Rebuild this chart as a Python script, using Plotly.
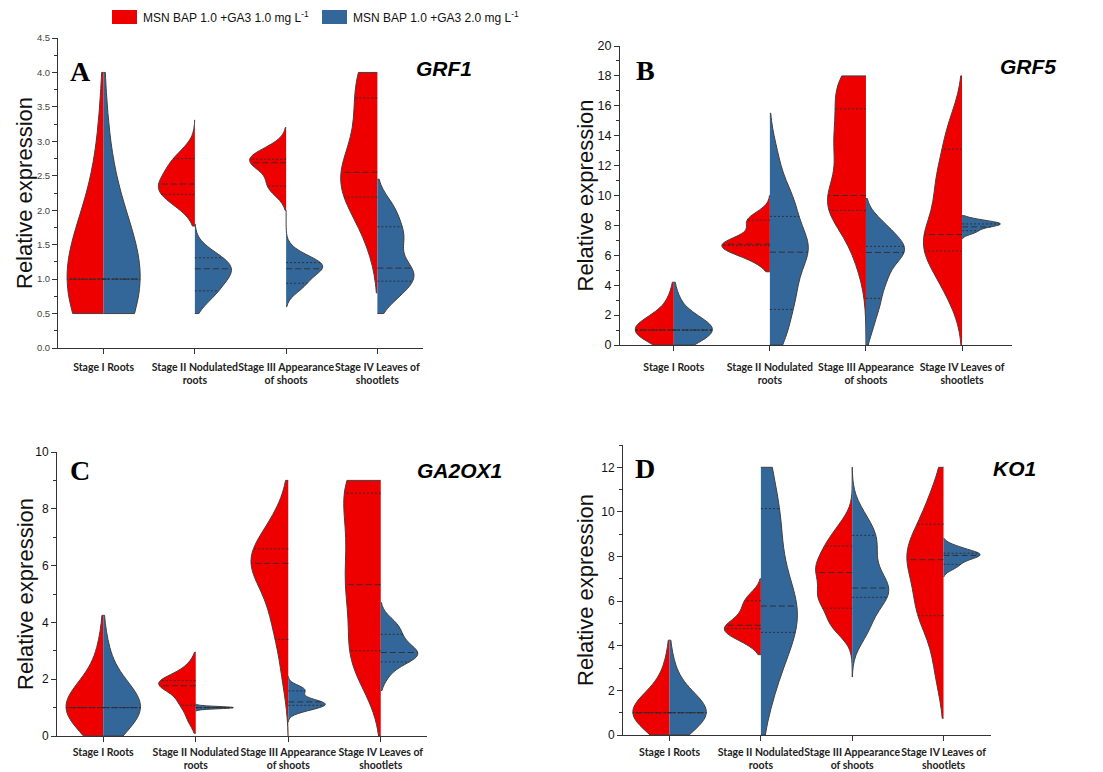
import numpy as np
import plotly.graph_objects as go

# ---------------- data ----------------
stage_labels = ["Stage I Roots", "Stage II Nodulated<br>roots",
                "Stage III Appearance<br>of shoots", "Stage IV Leaves of<br>shootlets"]
stage_pos = [0, 1, 2, 3]
treatments = ["MSN BAP 1.0 +GA3 1.0 mg L<sup>-1</sup>",
              "MSN BAP 1.0 +GA3 2.0 mg L<sup>-1</sup>"]
genes = ["GRF1", "GRF5", "GA2OX1", "KO1"]
letters = ["A", "B", "C", "D"]

# ---- GRF1 (panel A) ----
grf1_low = [
    [1.0, 1.0, 1.0, 1.0, 1.0, 1.0, 1.0, 1.0, 2.8],
    [2.15, 2.15, 2.35, 2.35, 2.35, 2.35, 2.7, 2.7, 2.7],
    [2.35, 2.35, 2.35, 2.7, 2.7, 2.7, 2.7, 2.7, 2.85, 2.85],
    [1.6, 2.2, 2.2, 2.2, 2.7, 2.7, 2.7, 3.4, 3.4, 4.0, 4.0],
]
grf1_high = [
    [1.0, 1.0, 1.0, 1.0, 1.0, 1.0, 1.0, 1.0, 2.7],
    [0.8, 0.8, 1.1, 1.1, 1.1, 1.3, 1.3],
    [0.92, 0.92, 1.18, 1.18, 1.18, 1.18, 1.35],
    [0.8, 0.8, 1.1, 1.1, 1.1, 1.1, 1.6, 1.6, 1.6, 2.0, 2.0],
]
grf1_low_bw = [0.9, 0.2, 0.15, 0.4]
grf1_high_bw = [0.9, 0.18, 0.13, 0.22]
grf1_low_span = [[0.5, 4.0], [1.77, 3.31], [2.0, 3.2], [0.8, 4.0]]
grf1_high_span = [[0.5, 4.0], [0.5, 1.8], [0.6, 2.0], [0.5, 2.45]]
grf1_low_quart = [[1.0, 1.0, 1.0], [2.23, 2.38, 2.75], [2.35, 2.69, 2.74], [2.19, 2.55, 3.63]]
grf1_high_quart = [[1.0, 1.0, 1.0], [0.83, 1.15, 1.31], [0.94, 1.15, 1.24], [0.97, 1.16, 1.76]]

# ---- GRF5 (panel B) ----
grf5_low = [
    [1.0, 1.0, 1.0, 1.0, 1.0, 1.0, 1.0, 1.0, 2.8],
    [5.8, 6.7, 6.7, 6.7, 6.7, 8.3, 8.3],
    [6.2, 9.5, 9.5, 9.5, 9.5, 13.5, 13.5, 13.5, 17.0, 17.0, 17.5],
    [4.0, 4.0, 6.8, 6.8, 6.8, 6.8, 6.8, 9.0, 11.0, 11.0, 11.0, 14.2, 14.2],
]
grf5_high = [
    [1.0, 1.0, 1.0, 1.0, 1.0, 1.0, 1.0, 1.0, 2.8],
    [0.8, 0.8, 3.5, 3.5, 3.5, 6.5, 6.5, 6.5, 6.5, 6.5, 9.5, 9.5, 9.5, 12.5],
    [1.2, 2.8, 2.8, 4.5, 4.5, 4.5, 6.3, 6.3, 6.3, 6.3, 6.3, 6.3, 7.8, 7.8, 7.8],
    [7.5, 7.6, 7.85, 7.85, 8.1, 8.1, 8.1, 8.1, 8.1, 8.35, 8.35],
]
grf5_low_bw = [0.9, 0.6, 1.8, 1.8]
grf5_high_bw = [0.9, 1.5, 0.9, 0.17]
grf5_low_span = [[0.0, 4.2], [4.9, 10.0], [0.0, 18.0], [0.0, 18.0]]
grf5_high_span = [[0.0, 4.2], [0.0, 15.5], [0.0, 9.8], [7.1, 8.65]]
grf5_low_quart = [[1.0, 1.0, 1.0], [6.65, 6.75, 8.35], [9.0, 10.0, 15.8], [6.28, 7.39, 13.1]]
grf5_high_quart = [[1.0, 1.0, 1.0], [2.38, 6.21, 8.6], [3.12, 6.19, 6.6], [7.65, 7.9, 8.1]]

# ---- GA2OX1 (panel C) ----
ga2ox1_low = [
    [1.0, 1.0, 1.0, 1.0, 1.0, 1.0, 1.0, 1.0, 2.8],
    [0.6, 1.2, 1.2, 1.85, 1.85, 1.85, 1.85, 1.85, 2.4],
    [2.2, 3.8, 3.8, 5.0, 5.0, 6.2, 6.2, 6.2, 6.2, 6.2, 6.2, 7.5, 7.5],
    [2.8, 2.8, 2.8, 5.3, 5.3, 5.3, 7.3, 7.3, 9.0, 9.0, 9.0],
]
ga2ox1_high = [
    [1.0, 1.0, 1.0, 1.0, 1.0, 1.0, 1.0, 1.0, 2.8],
    [1.0, 1.0, 1.0],
    [0.95, 0.95, 1.15, 1.15, 1.15, 1.15, 1.4, 1.65, 1.65],
    [2.2, 2.85, 2.85, 2.85, 2.85, 2.85, 3.4, 3.4, 3.9, 3.9],
]
ga2ox1_low_bw = [0.9, 0.3, 0.9, 1.25]
ga2ox1_high_bw = [0.9, 0.04, 0.15, 0.33]
ga2ox1_low_span = [[0.0, 4.25], [0.1, 2.95], [0.0, 9.0], [0.0, 9.0]]
ga2ox1_high_span = [[0.0, 4.25], [0.88, 1.12], [0.5, 2.1], [1.6, 4.7]]
ga2ox1_low_quart = [[1.0, 1.0, 1.0], [1.08, 1.77, 1.95], [3.4, 6.08, 6.59], [3.0, 5.33, 8.55]]
ga2ox1_high_quart = [[1.0, 1.0, 1.0], [1.0, 1.0, 1.0], [1.08, 1.2, 1.59], [2.61, 2.94, 3.58]]

# ---- KO1 (panel D) ----
ko1_low = [
    [1.0, 1.0, 1.0, 1.0, 1.0, 1.0, 1.0, 1.0, 2.8],
    [4.3, 4.3, 4.8, 4.8, 4.8, 4.8, 4.8, 5.5, 5.5, 6.1, 6.1],
    [5.0, 5.0, 6.2, 6.2, 6.2, 7.4, 7.4, 7.4, 8.4, 8.4, 9.3],
    [3.0, 5.6, 5.6, 5.6, 8.0, 8.0, 8.0, 8.0, 9.6, 10.6],
]
ko1_high = [
    [1.0, 1.0, 1.0, 1.0, 1.0, 1.0, 1.0, 1.0, 2.8],
    [2.5, 2.5, 5.5, 5.5, 5.5, 5.5, 5.5, 5.5, 9.5, 9.5, 9.5, 12.5],
    [4.8, 4.8, 6.3, 6.3, 6.3, 6.3, 7.3, 7.3, 8.5, 8.5, 9.1, 9.8],
    [7.5, 7.6, 7.85, 7.85, 8.1, 8.1, 8.1, 8.1, 8.1, 8.4, 8.4],
]
ko1_low_bw = [0.9, 0.4, 0.6, 1.2]
ko1_high_bw = [0.9, 1.8, 0.75, 0.18]
ko1_low_span = [[0.0, 4.25], [3.6, 7.0], [2.6, 12.0], [0.75, 12.0]]
ko1_high_span = [[0.0, 4.25], [0.0, 12.0], [2.6, 12.0], [7.1, 8.8]]
ko1_low_quart = [[1.0, 1.0, 1.0], [4.77, 4.92, 6.02], [5.68, 7.28, 8.47], [5.35, 7.86, 9.45]]
ko1_high_quart = [[1.0, 1.0, 1.0], [4.6, 5.78, 10.15], [6.17, 6.59, 8.95], [7.65, 8.05, 8.15]]

# ---------------- styling ----------------
RED = "#EE0000"
BLUE = "#336699"
OUTLINE = "#404040"
QLINE = "rgba(45,45,45,0.9)"
VWIDTH = 0.8

# page offset (browser body margin) and figure size
OFF = 8
W, H = 1103 - OFF, 772 - OFF


def px_x(px):
    return (px - OFF) / W


def px_y(py):
    return 1 - (py - OFF) / H


panels = [
    dict(gene=genes[0], letter=letters[0], low=grf1_low, high=grf1_high,
         low_bw=grf1_low_bw, high_bw=grf1_high_bw, low_span=grf1_low_span, high_span=grf1_high_span,
         low_q=grf1_low_quart, high_q=grf1_high_quart,
         xpx=[58, 423], ypx=[348, 38], standoff=4, wide={},
         xr=[-0.5, 3.5], yr=[0, 4.5], dtick=0.5, minor=0.25, tfmt=".1f", tsize=9.5,
         tcolor="#444", lx=80, ly=71, gx=444, gy=68, tx=25),
    dict(gene=genes[1], letter=letters[1], low=grf5_low, high=grf5_high,
         low_bw=grf5_low_bw, high_bw=grf5_high_bw, low_span=grf5_low_span, high_span=grf5_high_span,
         low_q=grf5_low_quart, high_q=grf5_high_quart,
         xpx=[620, 1012], ypx=[345, 46], standoff=7, wide={("low", 1): 1.25},
         xr=[-0.56, 3.52], yr=[0, 20], dtick=2, minor=1, tfmt="d", tsize=12.5,
         tcolor="#111", lx=645, ly=70, gx=1028, gy=67, tx=585),
    dict(gene=genes[2], letter=letters[2], low=ga2ox1_low, high=ga2ox1_high,
         low_bw=ga2ox1_low_bw, high_bw=ga2ox1_high_bw, low_span=ga2ox1_low_span, high_span=ga2ox1_high_span,
         low_q=ga2ox1_low_quart, high_q=ga2ox1_high_quart,
         xpx=[57, 427], ypx=[736, 452], standoff=1, wide={},
         xr=[-0.5, 3.5], yr=[0, 10], dtick=2, minor=1, tfmt="d", tsize=12,
         tcolor="#111", lx=80, ly=470, gx=459, gy=470, tx=25),
    dict(gene=genes[3], letter=letters[3], low=ko1_low, high=ko1_high,
         low_bw=ko1_low_bw, high_bw=ko1_high_bw, low_span=ko1_low_span, high_span=ko1_high_span,
         low_q=ko1_low_quart, high_q=ko1_high_quart,
         xpx=[623, 991], ypx=[735, 445], standoff=2, wide={},
         xr=[-0.51, 3.52], yr=[0, 13], dtick=2, minor=1, tfmt="d", tsize=12,
         tcolor="#111", lx=645, ly=469, gx=1014, gy=469, tx=585),
]


def kde_profile(samples, bw, span):
    s = np.asarray(samples, dtype=float)
    dist = span[1] - span[0]
    n = int(np.ceil(dist / (bw / 3.0)))
    grid = span[0] + (dist / n) * np.arange(n + 1)
    dens = lambda t: np.exp(-0.5 * ((np.atleast_1d(t)[None, :] - s[:, None]) / bw) ** 2).sum(0)
    dmax = dens(grid).max()
    return lambda y: float(dens(y)[0] / dmax)


fig = go.Figure()
layout_axes = {}
annotations = []

for pi, p in enumerate(panels):
    sfx = "" if pi == 0 else str(pi + 1)
    xa, ya = "x" + sfx, "y" + sfx
    med_x, med_y, q_x, q_y = [], [], [], []
    for side, key, color in (("negative", "low", RED), ("positive", "high", BLUE)):
        sign = -1 if side == "negative" else 1
        for si, pos in enumerate(stage_pos):
            samples = p[key][si]
            bw = p[key + "_bw"][si]
            span = p[key + "_span"][si]
            vw = VWIDTH * p["wide"].get((key, si), 1.0)
            fig.add_trace(go.Violin(
                x=[pos] * len(samples), y=samples, side=side, width=vw,
                bandwidth=bw, spanmode="manual", span=span, points=False,
                fillcolor=color, line=dict(color=OUTLINE, width=1),
                box_visible=False, meanline_visible=False,
                scalegroup=f"{p['gene']}-{key}-{si}", showlegend=False,
                hoverinfo="skip", xaxis=xa, yaxis=ya,
            ))
            prof = kde_profile(samples, bw, span)
            q1, med, q3 = p[key + "_q"][si]
            for qv, lx, ly in ((q1, q_x, q_y), (q3, q_x, q_y), (med, med_x, med_y)):
                rel = prof(qv)
                lx += [pos, pos + sign * (vw / 2) * rel, None]
                ly += [qv, qv, None]
    fig.add_trace(go.Scatter(x=q_x, y=q_y, mode="lines", xaxis=xa, yaxis=ya,
                             line=dict(color=QLINE, width=1, dash="2px,2px"),
                             showlegend=False, hoverinfo="skip"))
    fig.add_trace(go.Scatter(x=med_x, y=med_y, mode="lines", xaxis=xa, yaxis=ya,
                             line=dict(color=QLINE, width=1, dash="6px,3px"),
                             showlegend=False, hoverinfo="skip"))

    xdom = [px_x(p["xpx"][0]), px_x(p["xpx"][1])]
    ydom = [px_y(p["ypx"][0]), px_y(p["ypx"][1])]
    xname = "xaxis" + sfx
    yname = "yaxis" + sfx
    layout_axes[xname] = dict(
        domain=xdom, anchor=ya, range=p["xr"], tickmode="array",
        tickvals=stage_pos, ticktext=stage_labels, showgrid=False, zeroline=False,
        showline=True, linecolor="#333", linewidth=1, ticks="outside", ticklen=5,
        tickcolor="#333", tickangle=0, automargin=False,
        ticklabelstandoff=p["standoff"],
        tickfont=dict(family="Lato, Open Sans, sans-serif", size=10.5, color="#222",
                      weight="bold"),
    )
    layout_axes[yname] = dict(
        domain=ydom, anchor=xa, range=p["yr"], dtick=p["dtick"], tick0=0,
        tickformat=p["tfmt"],
        showgrid=False, zeroline=False, showline=True, linecolor="#333", linewidth=1,
        ticks="outside", ticklen=5, tickcolor="#333", automargin=False,
        tickfont=dict(family="Liberation Sans, Arial, sans-serif", size=p["tsize"],
                      color=p["tcolor"]),
        minor=dict(dtick=p["minor"], tick0=0, ticks="outside", ticklen=3,
                   tickcolor="#333", showgrid=False),
    )
    annotations.append(dict(
        text="Relative expression", x=px_x(p["tx"]),
        y=(ydom[0] + ydom[1]) / 2, xref="paper", yref="paper",
        textangle=-90, showarrow=False, xanchor="center", yanchor="middle",
        font=dict(family="Liberation Sans, Arial, sans-serif", size=22, color="#111")))
    annotations.append(dict(
        text=p["letter"], x=px_x(p["lx"]), y=px_y(p["ly"]), xref="paper",
        yref="paper", showarrow=False, xanchor="center", yanchor="middle",
        font=dict(family="Liberation Serif, Times New Roman, serif", size=28,
                  color="#000", weight="bold")))
    annotations.append(dict(
        text=f"<b><i>{p['gene']}</i></b>", x=px_x(p["gx"]), y=px_y(p["gy"]),
        xref="paper", yref="paper", showarrow=False, xanchor="center",
        yanchor="middle",
        font=dict(family="Liberation Sans, Arial, sans-serif", size=21, color="#000")))

# manual legend
legend_items = [(treatments[0], RED, 112), (treatments[1], BLUE, 322)]
shapes = []
for text, color, x0 in legend_items:
    shapes.append(dict(type="rect", xref="paper", yref="paper",
                       x0=px_x(x0), x1=px_x(x0 + 25),
                       y0=px_y(24), y1=px_y(10),
                       fillcolor=color, line=dict(width=0)))
    annotations.append(dict(text=text, x=px_x(x0 + 29), y=px_y(17),
                            xref="paper", yref="paper", showarrow=False,
                            xanchor="left", yanchor="middle",
                            font=dict(family="Liberation Sans, Arial, sans-serif",
                                      size=12, color="#111")))

fig.update_layout(
    width=W, height=H, margin=dict(l=0, r=0, t=0, b=0),
    paper_bgcolor="white", plot_bgcolor="white", violinmode="overlay",
    showlegend=False, annotations=annotations, shapes=shapes, **layout_axes,
)

fig.write_html("out.html")
